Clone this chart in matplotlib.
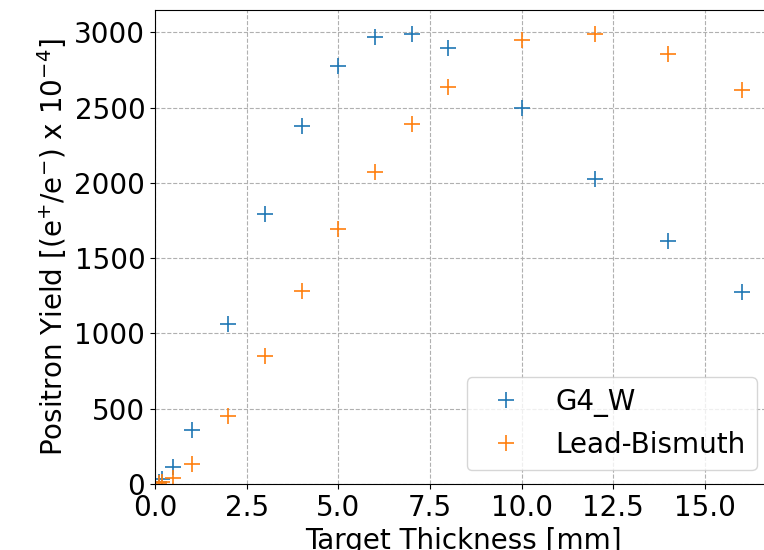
import numpy as np
import matplotlib
matplotlib.use("Agg")
import matplotlib.pyplot as plt

# target thickness in mm
thick = [0.1, 0.2, 0.5, 1, 2, 3, 4, 5, 6, 7, 8, 10, 12, 14, 16]

# yield in units of 1e-4 e+/e-
g4_w = [10, 35, 110, 358, 1060, 1792, 2376, 2774, 2973, 2993, 2900, 2495, 2024, 1612, 1274]
lead_bi = [5, 15, 42, 133, 451, 849, 1281, 1692, 2070, 2395, 2641, 2953, 2993, 2860, 2621]

xticks = [0.0, 2.5, 5.0, 7.5, 10.0, 12.5, 15.0]

plt.rcParams['font.size'] = 20

fig = plt.figure(figsize=(7.64, 5.5), dpi=100)
# axes runs slightly past the right edge, like the cropped original
ax = fig.add_axes([0.203, 0.12, 0.806, 0.862])

ax.plot(thick, g4_w, '+', ms=12, mew=1.2, color='tab:blue', label='G4_W')
ax.plot(thick, lead_bi, '+', ms=12, mew=1.2, color='tab:orange', label='Lead-Bismuth')

ax.set_xlim(0, 16.8)
ax.set_ylim(0, 3150)
ax.set_xticks(xticks)
ax.grid(True, linestyle='--', color='#b0b0b0', linewidth=0.8)
ax.set_axisbelow(True)

ax.set_xlabel('Target Thickness [mm]')
ax.set_ylabel(r'Positron Yield [(e$^{+}$/e$^{-}$) x 10$^{-4}$]')
ax.legend(loc='lower right')

fig.savefig('out.png', dpi=100)
